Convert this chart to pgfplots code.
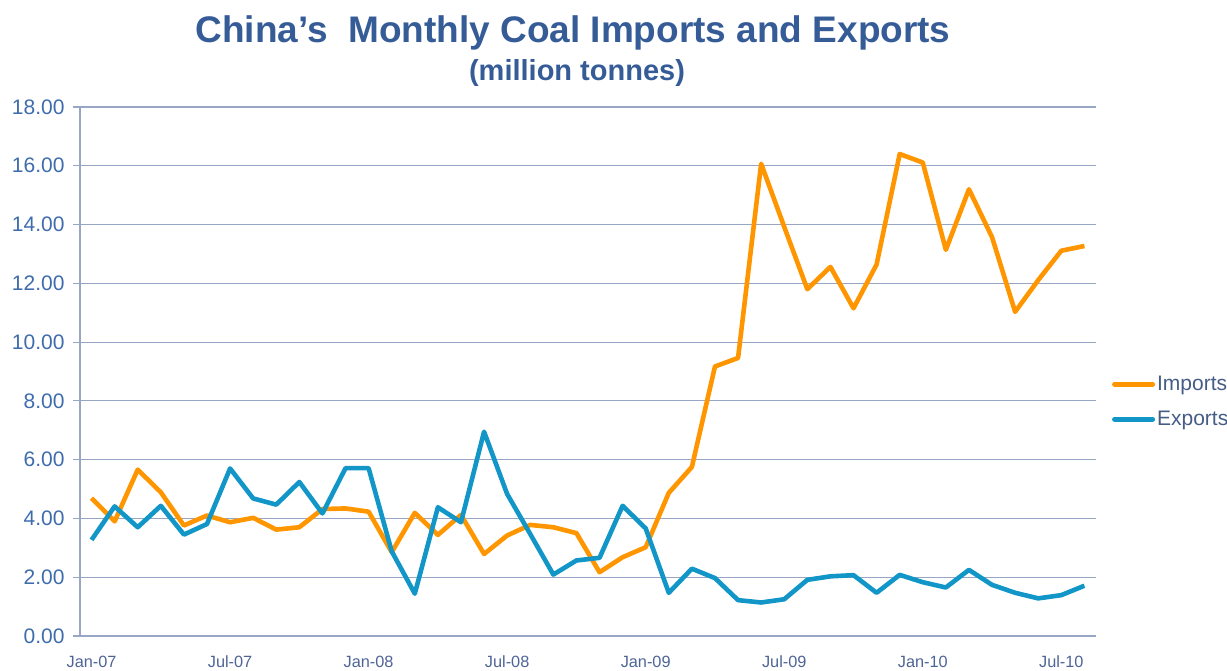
\documentclass[border=0pt]{standalone}
\usepackage{pgfplots}
\pgfplotsset{compat=1.18}
\usepackage{fontspec}
\setmainfont{Liberation Sans}
\definecolor{imp}{RGB}{255,150,0}
\definecolor{exp}{RGB}{18,150,200}
\definecolor{gridc}{RGB}{150,166,196}
\definecolor{titc}{RGB}{54,92,152}
\definecolor{ytc}{RGB}{62,108,172}
\definecolor{xtc}{RGB}{78,100,150}
\definecolor{legc}{RGB}{70,92,135}
\begin{document}
\begin{tikzpicture}[x=1pt,y=1pt]
\useasboundingbox (0,0) rectangle (1227,671);
\node[anchor=center,text=titc,font=\fontsize{37}{42}\selectfont\bfseries] at (573,638) {China’s~ Monthly Coal Imports and Exports};
\node[anchor=center,text=titc,font=\fontsize{29}{34}\selectfont\bfseries] at (577,598) {(million tonnes)};
\begin{axis}[
  at={(80pt,35pt)}, anchor=south west,
  scale only axis, width=1016pt, height=529pt,
  xmin=-0.5, xmax=43.5, ymin=0, ymax=18,
  axis x line*=bottom, axis y line*=left,
  axis line style={draw=gridc, line width=1.2pt},
  ytick={0,2,...,18},
  ymajorgrids, major grid style={draw=gridc, line width=1.2pt},
  yticklabel={\pgfmathprintnumber[fixed,fixed zerofill,precision=2]{\tick}},
  yticklabel style={text=ytc, font=\fontsize{21}{24}\selectfont, xshift=-5pt},
  /pgf/number format/assume math mode=true,
  tick align=outside, major tick length=7pt,
  tick style={draw=gridc, line width=1.2pt},
  xtick={0,6,12,18,24,30,36,42},
  xticklabels={Jan-07,Jul-07,Jan-08,Jul-08,Jan-09,Jul-09,Jan-10,Jul-10},
  xtick style={draw=none},
  xticklabel style={text=xtc, font=\fontsize{16.3}{19}\selectfont, yshift=-9pt, text height=12pt, text depth=3pt},
  extra x ticks={-0.5,5.5,11.5,17.5,23.5,29.5,35.5,41.5},
  extra x tick labels={},
  extra x tick style={tick style={draw=gridc, line width=1.2pt}, major tick length=6pt, xmajorgrids=false},
  legend style={at={(1.0157,0.443)}, anchor=west, draw=none, fill=none,
    font=\fontsize{21}{24}\selectfont, text=legc, inner xsep=0pt,
    row sep=15pt, cells={anchor=west}},
  legend cell align=left,
  legend image code/.code={\draw[#1, line width=5pt, line cap=round] (0pt,0pt) -- (38pt,0pt);},
]
\addplot[imp, line width=4.6pt, line join=round] coordinates {
(0,4.69) (1,3.90) (2,5.66) (3,4.89) (4,3.76) (5,4.10) (6,3.87) (7,4.02) (8,3.62) (9,3.70)
(10,4.32) (11,4.34) (12,4.23) (13,2.85) (14,4.19) (15,3.44) (16,4.12) (17,2.79) (18,3.42) (19,3.78)
(20,3.70) (21,3.50) (22,2.17) (23,2.68) (24,3.02) (25,4.87) (26,5.75) (27,9.17) (28,9.46) (29,16.07)
(30,13.92) (31,11.80) (32,12.56) (33,11.15) (34,12.64) (35,16.40) (36,16.11) (37,13.14) (38,15.20) (39,13.57)
(40,11.03) (41,12.11) (42,13.11) (43,13.27)
};
\addlegendentry{Imports}
\addplot[exp, line width=4.6pt, line join=round] coordinates {
(0,3.27) (1,4.41) (2,3.70) (3,4.43) (4,3.45) (5,3.81) (6,5.70) (7,4.68) (8,4.47) (9,5.24)
(10,4.17) (11,5.71) (12,5.71) (13,2.88) (14,1.44) (15,4.38) (16,3.87) (17,6.95) (18,4.83) (19,3.47)
(20,2.09) (21,2.57) (22,2.66) (23,4.43) (24,3.66) (25,1.47) (26,2.29) (27,1.97) (28,1.22) (29,1.14)
(30,1.25) (31,1.91) (32,2.03) (33,2.07) (34,1.47) (35,2.08) (36,1.83) (37,1.65) (38,2.25) (39,1.74)
(40,1.47) (41,1.28) (42,1.39) (43,1.71)
};
\addlegendentry{Exports}
\end{axis}
\end{tikzpicture}
\end{document}
